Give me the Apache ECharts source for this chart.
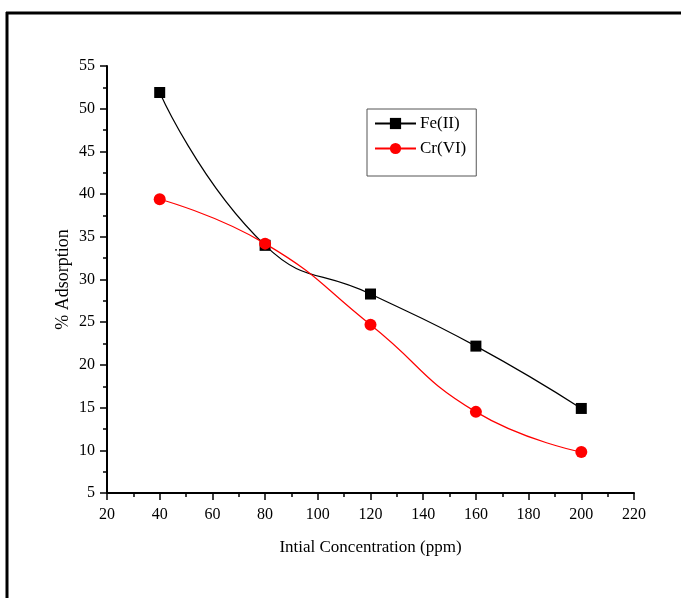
<!DOCTYPE html>
<html><head><meta charset="utf-8">
<script src="https://cdn.jsdelivr.net/npm/echarts@6/dist/echarts.min.js"></script>
<style>html,body{margin:0;padding:0;background:#fff}#c{width:681px;height:598px}</style>
</head><body><div id="c"></div>
<script>
const concentrations = [40, 80, 120, 160, 200];
const feValues = [51.9, 34.0, 28.3, 22.2, 14.9];
const crValues = [39.4, 34.2, 24.7, 14.5, 9.8];
const seriesNames = ['Fe(II)', 'Cr(VI)'];
const xTitle = 'Intial Concentration (ppm)';
const yTitle = '% Adsorption';

const font = 'Liberation Serif';
const chart = echarts.init(document.getElementById('c'), null, {renderer: 'canvas'});
const pairs = v => concentrations.map((x, i) => [x, v[i]]);
chart.setOption({
  animation: false,
  backgroundColor: '#fff',
  graphic: [
    {type: 'line', shape: {x1: 6, y1: 13, x2: 681, y2: 13}, style: {stroke: '#000', lineWidth: 3}},
    {type: 'line', shape: {x1: 7, y1: 12, x2: 7, y2: 598}, style: {stroke: '#000', lineWidth: 3}}
  ],
  grid: {left: 107, right: 47, top: 66, bottom: 105},
  legend: {
    left: 367, top: 109, orient: 'vertical',
    padding: [6, 10, 19, 7], itemGap: 8, itemWidth: 41, itemHeight: 14,
    borderColor: '#555', borderWidth: 1, borderRadius: 0,
    textStyle: {fontFamily: font, fontSize: 17, color: '#000', padding: [0, 0, 0, -1]},
    data: seriesNames
  },
  xAxis: {
    type: 'value', min: 20, max: 220, interval: 20,
    name: xTitle, nameLocation: 'middle', nameGap: 46, nameMoveOverlap: false,
    nameTextStyle: {fontFamily: font, fontSize: 17, color: '#000'},
    axisLine: {lineStyle: {color: '#000', width: 2}},
    axisTick: {lineStyle: {color: '#000', width: 1.5}, length: 7},
    minorTick: {show: true, splitNumber: 2, length: 4, lineStyle: {color: '#000', width: 1.5}},
    axisLabel: {fontFamily: font, fontSize: 16, color: '#000', margin: 14},
    splitLine: {show: false}
  },
  yAxis: {
    type: 'value', min: 5, max: 55, interval: 5,
    name: yTitle, nameLocation: 'middle', nameGap: 35, nameRotate: 90, nameMoveOverlap: false,
    nameTextStyle: {fontFamily: font, fontSize: 18, color: '#000'},
    axisLine: {show: true, lineStyle: {color: '#000', width: 2}},
    axisTick: {show: true, lineStyle: {color: '#000', width: 1.5}, length: 7},
    minorTick: {show: true, splitNumber: 2, length: 4, lineStyle: {color: '#000', width: 1.5}},
    axisLabel: {fontFamily: font, fontSize: 16, color: '#000', margin: 12},
    splitLine: {show: false}
  },
  series: [
    {name: seriesNames[0], type: 'line', data: pairs(feValues), smooth: 0.5,
     symbol: 'rect', symbolSize: 11, color: '#000',
     lineStyle: {color: '#000', width: 1.2}, itemStyle: {color: '#000'}, z: 3},
    {name: seriesNames[1], type: 'line', data: pairs(crValues), smooth: 0.5,
     symbol: 'circle', symbolSize: 12, color: '#ff0000',
     lineStyle: {color: '#ff0000', width: 1.2}, itemStyle: {color: '#ff0000'}, z: 4}
  ]
});
</script></body></html>
